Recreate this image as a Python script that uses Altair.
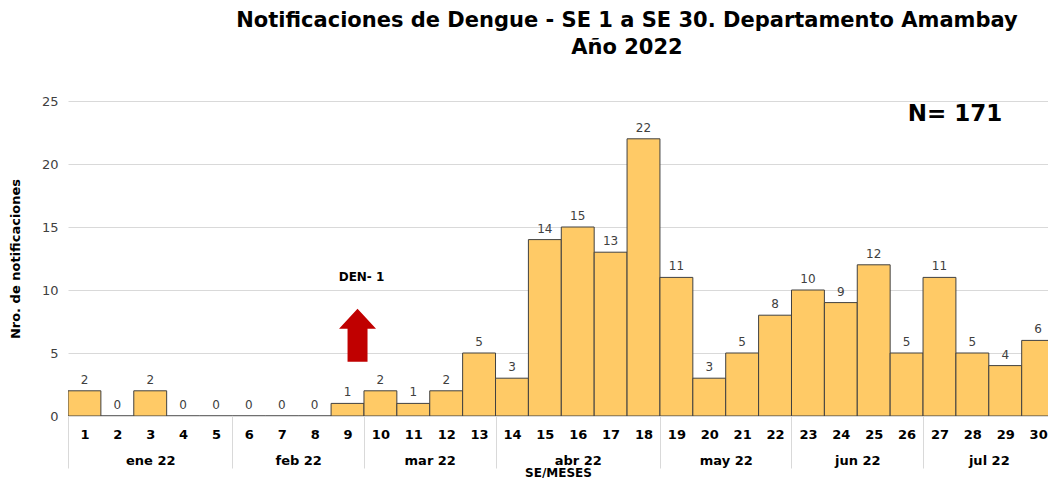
import altair as alt
import pandas as pd

weeks = list(range(1, 31))
values = [2, 0, 2, 0, 0, 0, 0, 0, 1, 2, 1, 2, 5, 3, 14, 15, 13, 22, 11, 3, 5, 8, 10, 9, 12, 5, 11, 5, 4, 6]
months = ["ene 22", "feb 22", "mar 22", "abr 22", "may 22", "jun 22", "jul 22"]
month_first = [1, 6, 10, 14, 19, 23, 27]
month_last = [5, 9, 13, 18, 22, 26, 30]

FONT = "DejaVu Sans"
df = pd.DataFrame({"week": weeks, "value": values})
df["x0"] = df["week"] - 0.5
df["x1"] = df["week"] + 0.5

mdf = pd.DataFrame({
    "month": months,
    "mid": [(a + b) / 2 for a, b in zip(month_first, month_last)],
    "start": [a - 0.5 for a in month_first],
})

xscale = alt.Scale(domain=[0.5, 30.3], nice=False, zero=False)
yscale = alt.Scale(domain=[0, 25], nice=False)

bars = alt.Chart(df).mark_rect(fill="#FFCA66", stroke="#404040", strokeWidth=1, clip=True).encode(
    x=alt.X("x0:Q", scale=xscale, axis=alt.Axis(
        values=weeks, title=None, ticks=False, grid=False, domain=True, domainColor="#d9d9d9",
        labelFont=FONT, labelFontWeight="bold", labelFontSize=13, labelColor="#000000",
        labelPadding=12, labelFlush=False, labelOverlap=False, format="d")),
    x2="x1:Q",
    y=alt.Y("value:Q", scale=yscale, axis=alt.Axis(
        values=[0, 5, 10, 15, 20, 25], title="Nro. de notificaciones", ticks=False, domain=False,
        gridColor="#d9d9d9", labelFont=FONT, labelFontSize=13, labelColor="#404040", labelPadding=10,
        titleFont=FONT, titleFontSize=13, titleFontWeight="bold", titleColor="#000000", titlePadding=19)),
    y2=alt.datum(0),
)

labels = alt.Chart(df).mark_text(font=FONT, fontSize=12, color="#404040", baseline="bottom", dy=-4).encode(
    x=alt.X("week:Q", scale=xscale, axis=None),
    y=alt.Y("value:Q", scale=yscale),
    text="value:Q",
)

month_axis = alt.Chart(mdf).mark_point(opacity=0).encode(
    x=alt.X("mid:Q", scale=xscale, axis=alt.Axis(
        values=mdf["mid"].tolist(), orient="bottom", ticks=False, domain=False, grid=False,
        labelExpr="{'3': 'ene 22', '7.5': 'feb 22', '11.5': 'mar 22', '16': 'abr 22', '20.5': 'may 22', '24.5': 'jun 22', '28.5': 'jul 22'}[datum.value + '']",
        labelFont=FONT, labelFontWeight="bold", labelFontSize=13, labelColor="#000000",
        labelPadding=38, labelFlush=False, labelOverlap=False,
        title="SE/MESES", titleFont=FONT, titleFontSize=12, titleFontWeight="bold",
        titleColor="#000000", titlePadding=0)),
    y=alt.datum(0),
)

sep_axis = alt.Chart(mdf).mark_point(opacity=0).encode(
    x=alt.X("start:Q", scale=xscale, axis=alt.Axis(
        values=mdf["start"].tolist(), orient="bottom", ticks=True, tickSize=52, tickColor="#d9d9d9",
        labels=False, domain=False, grid=False, title=None)),
    y=alt.datum(0),
)

ann = pd.DataFrame({"x": [9], "y": [11.0], "t": ["DEN- 1"]})
den = alt.Chart(ann).mark_text(font=FONT, fontSize=12, fontWeight="bold", color="#000000", dx=14).encode(
    x=alt.X("x:Q", scale=xscale, axis=None), y=alt.Y("y:Q", scale=yscale), text="t:N")

arr = pd.DataFrame({"x": [9], "y": [6.4]})
arrow_path = "M -0.377 1 L -0.377 -0.245 L -0.698 -0.245 L 0 -1 L 0.698 -0.245 L 0.377 -0.245 L 0.377 1 Z"
arrow = alt.Chart(arr).mark_point(shape=arrow_path, filled=True, fill="#C00000", color="#C00000",
                                  opacity=1, size=2809, strokeWidth=0).encode(
    x=alt.X("x:Q", scale=xscale, axis=None), y=alt.Y("y:Q", scale=yscale), xOffset=alt.value(10))

nt = pd.DataFrame({"x": [27.47], "y": [24.0], "t": ["N= 171"]})
ntext = alt.Chart(nt).mark_text(font=FONT, fontSize=23, fontWeight="bold", color="#000000").encode(
    x=alt.X("x:Q", scale=xscale, axis=None), y=alt.Y("y:Q", scale=yscale), text="t:N")

chart = alt.layer(bars, labels, month_axis, sep_axis, den, arrow, ntext).resolve_axis(x="independent").properties(
    width=980, height=315,
    autosize=alt.AutoSizeParams(type="none"),
    padding={"left": 60, "top": 93, "right": 0, "bottom": 62},
    title=alt.TitleParams(
        text=["Notificaciones de Dengue - SE 1 a SE 30. Departamento Amambay", "Año 2022"],
        font=FONT, fontSize=21, fontWeight="bold", color="#000000", anchor="middle",
        lineHeight=27, dx=69, offset=37),
).configure_view(stroke=None)

chart.save("out.html", embed_options={"renderer": "svg", "actions": False})
